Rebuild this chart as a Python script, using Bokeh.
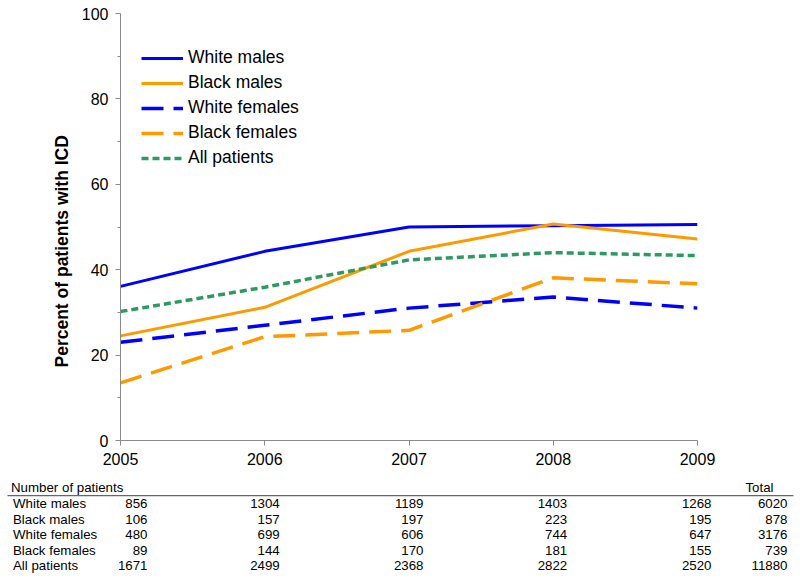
from bokeh.plotting import figure
from bokeh.models import FixedTicker, Range1d, ColumnDataSource, Legend, Title
from bokeh.layouts import column
from bokeh.embed import file_html
from bokeh.resources import INLINE
from bokeh.core.properties import value

# ---------------- data ----------------
years = [2005, 2006, 2007, 2008, 2009]
series_names = ["White males", "Black males", "White females", "Black females", "All patients"]
white_males = [36.1, 44.3, 50.0, 50.3, 50.6]
black_males = [24.5, 31.2, 44.3, 50.7, 47.2]
white_females = [23.0, 27.0, 31.0, 33.6, 31.0]
black_females = [13.5, 24.3, 25.8, 38.1, 36.7]
all_patients = [30.2, 35.9, 42.3, 44.0, 43.3]

n_white_males = [856, 1304, 1189, 1403, 1268]
n_black_males = [106, 157, 197, 223, 195]
n_white_females = [480, 699, 606, 744, 647]
n_black_females = [89, 144, 170, 181, 155]
n_all_patients = [1671, 2499, 2368, 2822, 2520]
n_totals = [6020, 878, 3176, 739, 11880]

y_ticks = [0, 20, 40, 60, 80, 100]
y_minor = [10, 30, 50, 70, 90]
y_title = "Percent of patients with ICD"

# ---------------- layout / style ----------------
FONT = "Liberation Sans"
W = 800
TOP_H = 472
TAB_H = 108
FL, FR, FT, FB = 120, 697, 13, 440  # frame edges in canvas px
BLUE, ORANGE, GREEN = "#0000ff", "#ff9900", "#2e9a62"
AXIS_C = "#8a8a8a"
TAB_FS = "13.3px"

p = figure(width=W, height=TOP_H, output_backend="svg", toolbar_location=None,
           x_range=Range1d(2005, 2009), y_range=Range1d(0, 100),
           min_border_left=FL, min_border_right=W - FR, min_border_top=FT,
           min_border_bottom=TOP_H - FB)
p.outline_line_color = None
p.xgrid.visible = False
p.ygrid.visible = False
p.background_fill_color = "white"
p.border_fill_color = "white"

p.xaxis.ticker = FixedTicker(ticks=years)
p.yaxis.ticker = FixedTicker(ticks=y_ticks, minor_ticks=y_minor)
for ax in (p.xaxis[0], p.yaxis[0]):
    ax.axis_line_color = AXIS_C
    ax.major_tick_line_color = AXIS_C
    ax.minor_tick_line_color = AXIS_C
    ax.major_tick_in = 0
    ax.major_tick_out = 5
    ax.minor_tick_in = 0
    ax.minor_tick_out = 3
    ax.major_label_text_font = FONT
    ax.major_label_text_font_size = "16px"
    ax.major_label_text_color = "black"
p.xaxis.minor_tick_line_color = None
p.xaxis.major_label_standoff = 7
p.yaxis.major_label_standoff = 7

# y-axis title, placed off-centre as in the original
p.add_layout(Title(text=y_title, align="left", offset=73, standoff=14,
                   text_font=FONT, text_font_size="17.5px", text_font_style="bold",
                   text_color="black"), "left")

series = [white_males, black_males, white_females, black_females, all_patients]
colors = [BLUE, ORANGE, BLUE, ORANGE, GREEN]
dashes = ["solid", "solid", "22 10", "22 10", "7 4"]
widths = [3, 3, 3.5, 3.5, 3.5]
items = []
for name, ys, c, d, w in zip(series_names, series, colors, dashes, widths):
    r = p.line(years, ys, line_color=c, line_dash=d, line_width=w)
    items.append((name, [r]))

legend = Legend(items=items, location=(21, 272), padding=0, margin=0,
                spacing=4, glyph_width=42, glyph_height=20, label_height=20,
                label_standoff=5, background_fill_alpha=0, border_line_color=None,
                label_text_font=FONT, label_text_font_size="17.5px",
                label_text_color="black")
p.add_layout(legend, "center")

# ---------------- table ----------------
ppy = (FR - FL) / (years[-1] - years[0])
x0 = years[0] - FL / ppy
x1 = years[0] + (W - FL) / ppy
row0, row_step = 31, 15.6
y_bottom = (TAB_H - row0) / row_step
y_top = -row0 / row_step

t = figure(width=W, height=TAB_H, output_backend="svg", toolbar_location=None,
           x_range=Range1d(x0, x1), y_range=Range1d(y_bottom, y_top),
           x_axis_location=None, y_axis_location=None,
           min_border_left=0, min_border_right=0, min_border_top=0, min_border_bottom=0)
t.outline_line_color = None
t.xgrid.visible = False
t.ygrid.visible = False
for fig in (p, t):
    if "frame_align" in fig.properties():
        fig.frame_align = False

counts = [n_white_males, n_black_males, n_white_females, n_black_females, n_all_patients]
col_offsets = [27, 15, 14.5, 14, 14]

lab_src = ColumnDataSource(dict(x=[x0] * (len(series_names) + 1),
                                y=[-1] + list(range(len(series_names))),
                                text=["Number of patients"] + series_names,
                                xo=[10.5] + [12.5] * len(series_names)))
t.text(x="x", y="y", text="text", x_offset="xo", source=lab_src,
       text_font=value(FONT), text_font_size=TAB_FS, text_baseline="middle",
       text_align="left", text_color="black")

xs, ys_, txt, xo = [], [], [], []
for ri, row in enumerate(counts):
    for ci, v in enumerate(row):
        xs.append(years[ci]); ys_.append(ri); txt.append(str(v)); xo.append(col_offsets[ci])
    xs.append(x1); ys_.append(ri); txt.append(str(n_totals[ri])); xo.append(-13)
num_src = ColumnDataSource(dict(x=xs, y=ys_, text=txt, xo=xo))
t.text(x="x", y="y", text="text", x_offset="xo", source=num_src,
       text_font=value(FONT), text_font_size=TAB_FS, text_baseline="middle",
       text_align="right", text_color="black")
t.text(x=[x1], y=[-1], text=["Total"], x_offset=-27,
       text_font=value(FONT), text_font_size=TAB_FS, text_baseline="middle",
       text_align="right", text_color="black")
t.segment(x0=[x0 + 7 / ppy], y0=[-0.5], x1=[x1 - 7 / ppy], y1=[-0.5],
          line_color="#666666", line_width=1.3)

layout = column(p, t, spacing=0)
open("out.html", "w").write(file_html(layout, INLINE))
